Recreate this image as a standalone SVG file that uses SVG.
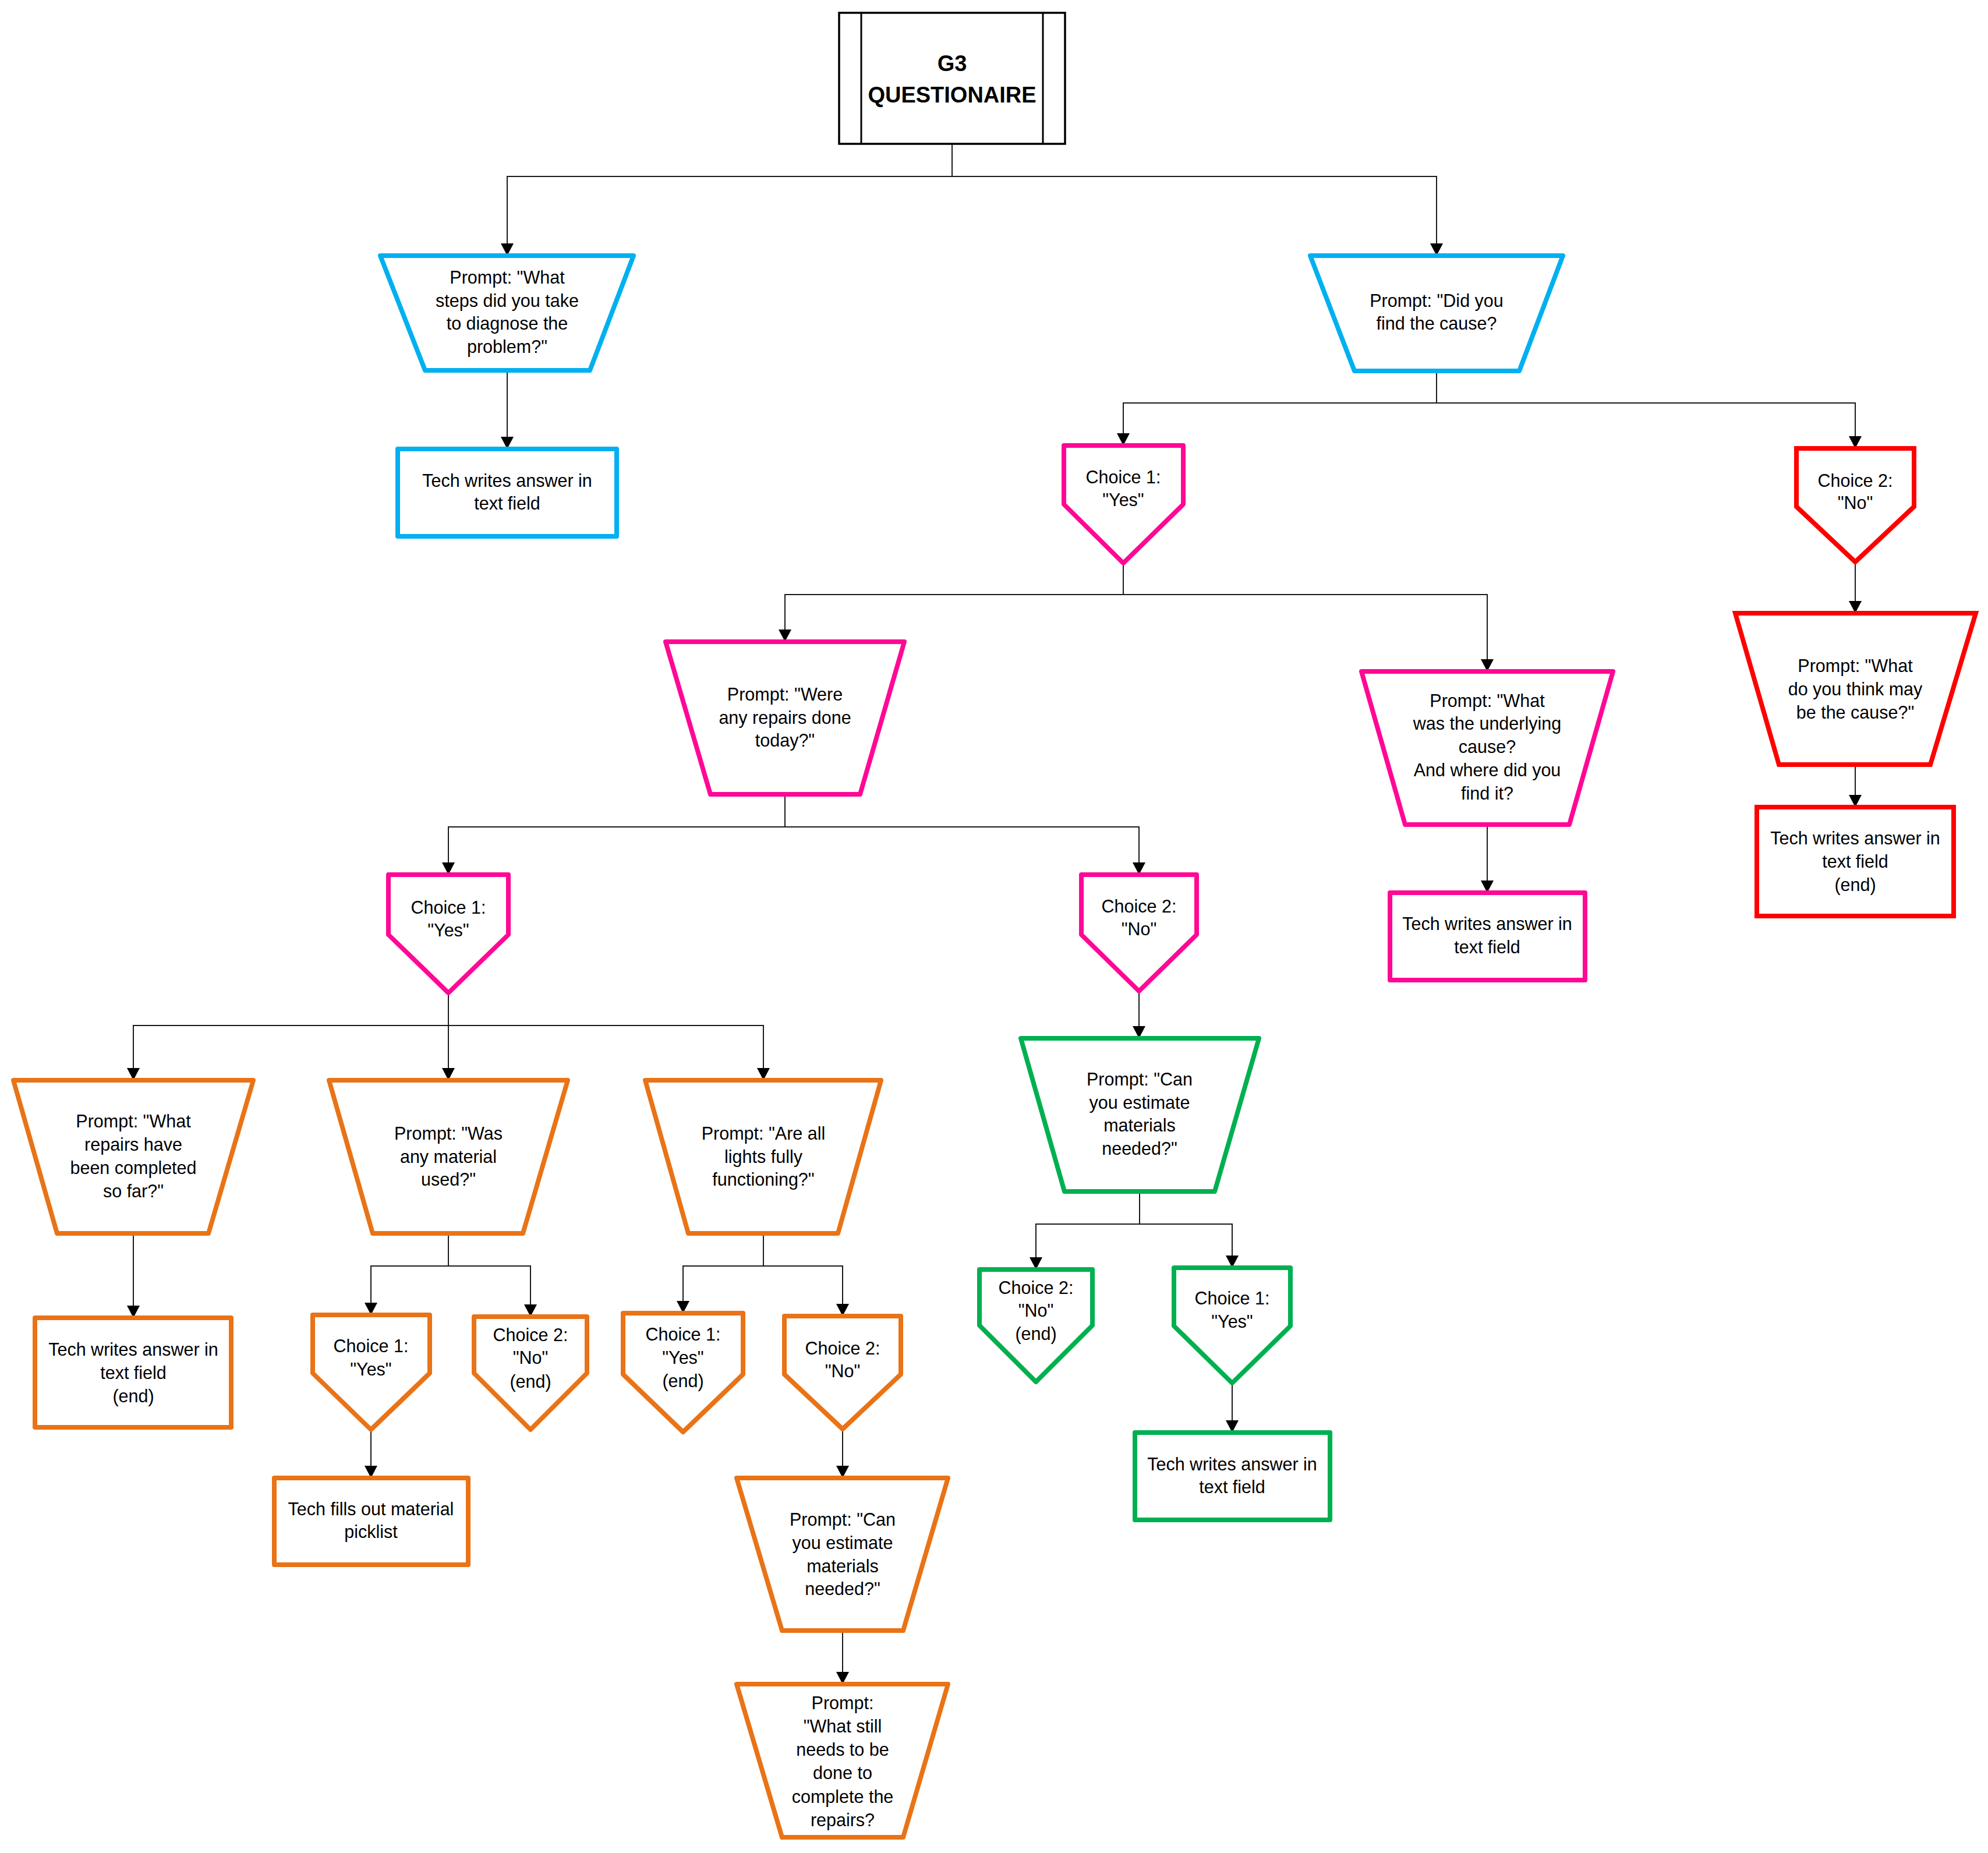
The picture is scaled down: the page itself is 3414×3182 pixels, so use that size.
<svg xmlns="http://www.w3.org/2000/svg" width="3414" height="3182" viewBox="0 0 3414 3182">
<defs>
<marker id="arr" viewBox="0 0 21 22" refX="21" refY="11" markerWidth="21" markerHeight="22" markerUnits="userSpaceOnUse" orient="auto">
<path d="M0,0 L21,11 L0,22 z" fill="#000"/>
</marker>
<style>
.nd{fill:#fff;stroke-width:8;stroke-linejoin:round}
.blue{stroke:#00B0F0}
.pink{stroke:#FF0896}
.red{stroke:#FF0000;stroke-linejoin:miter}
.orange{stroke:#E97316}
.green{stroke:#00B050}
.t{font-family:"Liberation Sans",Arial,sans-serif;font-size:30.5px;fill:#000;text-anchor:middle}
.title{font-family:"Liberation Sans",Arial,sans-serif;font-size:38px;font-weight:bold;fill:#000;text-anchor:middle}
.c{fill:none;stroke:#1a1a1a;stroke-width:2;marker-end:url(#arr)}
</style>
</defs>
<rect width="3414" height="3182" fill="#fff"/>

<g id="connectors">
<path class="c" d="M1635 247 V303 H871 V439"/>
<path class="c" d="M1635 247 V303 H2467 V439"/>
<path class="c" d="M871 636 V771"/>
<path class="c" d="M2467 637 V692 H1929 V765"/>
<path class="c" d="M2467 637 V692 H3186 V770"/>
<path class="c" d="M3186 965 V1053"/>
<path class="c" d="M3186 1313 V1386"/>
<path class="c" d="M1929 967 V1021 H1348 V1102"/>
<path class="c" d="M1929 967 V1021 H2554 V1153"/>
<path class="c" d="M2554 1416 V1533"/>
<path class="c" d="M1348 1364 V1420 H770 V1502"/>
<path class="c" d="M1348 1364 V1420 H1956 V1502"/>
<path class="c" d="M770 1705 V1761 H229 V1855"/>
<path class="c" d="M770 1705 V1855"/>
<path class="c" d="M770 1705 V1761 H1311 V1855"/>
<path class="c" d="M229 2118 V2263"/>
<path class="c" d="M770 2118 V2174 H637 V2258"/>
<path class="c" d="M770 2118 V2174 H911 V2261"/>
<path class="c" d="M637 2455 V2538"/>
<path class="c" d="M1311 2118 V2174 H1173 V2255"/>
<path class="c" d="M1311 2118 V2174 H1447 V2260"/>
<path class="c" d="M1447 2454 V2538"/>
<path class="c" d="M1447 2800 V2892"/>
<path class="c" d="M1956 1702 V1783"/>
<path class="c" d="M1957 2046 V2102 H1779 V2180"/>
<path class="c" d="M1957 2046 V2102 H2116 V2177"/>
<path class="c" d="M2116 2375 V2460"/>
</g>

<g id="n0-title">
<rect x="1441" y="22" width="388" height="225" fill="#fff" stroke="#000" stroke-width="3.5"/>
<line x1="1479" y1="22" x2="1479" y2="247" stroke="#000" stroke-width="3"/>
<line x1="1791" y1="22" x2="1791" y2="247" stroke="#000" stroke-width="3"/>
<text class="title"><tspan x="1635" y="122">G3</tspan><tspan x="1635" y="176">QUESTIONAIRE</tspan></text>
</g>

<g id="n1-steps">
<polygon class="nd blue" points="653,439 1088,439 1013,636 730,636"/>
<text class="t"><tspan x="871" y="487">Prompt: "What</tspan><tspan x="871" y="527">steps did you take</tspan><tspan x="871" y="566">to diagnose the</tspan><tspan x="871" y="606">problem?"</tspan></text>
</g>

<g id="n2-answer-blue">
<rect class="nd blue" x="683" y="771" width="376" height="150"/>
<text class="t"><tspan x="871" y="836">Tech writes answer in</tspan><tspan x="871" y="875">text field</tspan></text>
</g>

<g id="n3-cause">
<polygon class="nd blue" points="2250,439 2684,439 2609,637 2326,637"/>
<text class="t"><tspan x="2467" y="527">Prompt: "Did you</tspan><tspan x="2467" y="566">find the cause?</tspan></text>
</g>

<g id="n4-cause-yes">
<polygon class="nd pink" points="1827,765 2032,765 2032,866 1929,967 1827,866"/>
<text class="t"><tspan x="1929" y="830">Choice 1:</tspan><tspan x="1929" y="869">"Yes"</tspan></text>
</g>

<g id="n5-cause-no">
<polygon class="nd red" points="3085,770 3287,770 3287,870 3186,965 3085,870"/>
<text class="t"><tspan x="3186" y="836">Choice 2:</tspan><tspan x="3186" y="874">"No"</tspan></text>
</g>

<g id="n6-think">
<polygon class="nd red" points="2980,1053 3393,1053 3315,1313 3055,1313"/>
<text class="t"><tspan x="3186" y="1154">Prompt: "What</tspan><tspan x="3186" y="1194">do you think may</tspan><tspan x="3186" y="1234">be the cause?"</tspan></text>
</g>

<g id="n7-answer-red">
<rect class="nd red" x="3017" y="1386" width="338" height="187"/>
<text class="t"><tspan x="3186" y="1450">Tech writes answer in</tspan><tspan x="3186" y="1490">text field</tspan><tspan x="3186" y="1530">(end)</tspan></text>
</g>

<g id="n8-repairs">
<polygon class="nd pink" points="1143,1102 1553,1102 1477,1364 1220,1364"/>
<text class="t"><tspan x="1348" y="1203">Prompt: "Were</tspan><tspan x="1348" y="1243">any repairs done</tspan><tspan x="1348" y="1282">today?"</tspan></text>
</g>

<g id="n9-underlying">
<polygon class="nd pink" points="2338,1153 2770,1153 2695,1416 2413,1416"/>
<text class="t"><tspan x="2554" y="1214">Prompt: "What</tspan><tspan x="2554" y="1253">was the underlying</tspan><tspan x="2554" y="1293">cause?</tspan><tspan x="2554" y="1333">And where did you</tspan><tspan x="2554" y="1373">find it?</tspan></text>
</g>

<g id="n10-answer-pink">
<rect class="nd pink" x="2387" y="1533" width="335" height="150"/>
<text class="t"><tspan x="2554" y="1597">Tech writes answer in</tspan><tspan x="2554" y="1637">text field</tspan></text>
</g>

<g id="n11-repairs-yes">
<polygon class="nd pink" points="667,1502 873,1502 873,1605 770,1705 667,1605"/>
<text class="t"><tspan x="770" y="1569">Choice 1:</tspan><tspan x="770" y="1608">"Yes"</tspan></text>
</g>

<g id="n12-repairs-no">
<polygon class="nd pink" points="1857,1502 2055,1502 2055,1605 1956,1702 1857,1605"/>
<text class="t"><tspan x="1956" y="1567">Choice 2:</tspan><tspan x="1956" y="1606">"No"</tspan></text>
</g>

<g id="n13-completed">
<polygon class="nd orange" points="23,1855 435,1855 358,2118 98,2118"/>
<text class="t"><tspan x="229" y="1936">Prompt: "What</tspan><tspan x="229" y="1976">repairs have</tspan><tspan x="229" y="2016">been completed</tspan><tspan x="229" y="2056">so far?"</tspan></text>
</g>

<g id="n14-answer-orange">
<rect class="nd orange" x="60" y="2263" width="337" height="188"/>
<text class="t"><tspan x="229" y="2328">Tech writes answer in</tspan><tspan x="229" y="2368">text field</tspan><tspan x="229" y="2408">(end)</tspan></text>
</g>

<g id="n15-material">
<polygon class="nd orange" points="565,1855 975,1855 898,2118 640,2118"/>
<text class="t"><tspan x="770" y="1957">Prompt: "Was</tspan><tspan x="770" y="1997">any material</tspan><tspan x="770" y="2036">used?"</tspan></text>
</g>

<g id="n16-lights">
<polygon class="nd orange" points="1108,1855 1513,1855 1439,2118 1182,2118"/>
<text class="t"><tspan x="1311" y="1957">Prompt: "Are all</tspan><tspan x="1311" y="1997">lights fully</tspan><tspan x="1311" y="2036">functioning?"</tspan></text>
</g>

<g id="n17-material-yes">
<polygon class="nd orange" points="537,2258 738,2258 738,2358 637,2455 537,2358"/>
<text class="t"><tspan x="637" y="2322">Choice 1:</tspan><tspan x="637" y="2362">"Yes"</tspan></text>
</g>

<g id="n18-picklist">
<rect class="nd orange" x="471" y="2538" width="333" height="149"/>
<text class="t"><tspan x="637" y="2602">Tech fills out material</tspan><tspan x="637" y="2641">picklist</tspan></text>
</g>

<g id="n19-material-no">
<polygon class="nd orange" points="814,2261 1008,2261 1008,2358 911,2455 814,2358"/>
<text class="t"><tspan x="911" y="2303">Choice 2:</tspan><tspan x="911" y="2342">"No"</tspan><tspan x="911" y="2383">(end)</tspan></text>
</g>

<g id="n20-lights-yes">
<polygon class="nd orange" points="1070,2255 1276,2255 1276,2360 1173,2459 1070,2360"/>
<text class="t"><tspan x="1173" y="2302">Choice 1:</tspan><tspan x="1173" y="2342">"Yes"</tspan><tspan x="1173" y="2382">(end)</tspan></text>
</g>

<g id="n21-lights-no">
<polygon class="nd orange" points="1347,2260 1547,2260 1547,2360 1447,2454 1347,2360"/>
<text class="t"><tspan x="1447" y="2326">Choice 2:</tspan><tspan x="1447" y="2365">"No"</tspan></text>
</g>

<g id="n22-estimate-orange">
<polygon class="nd orange" points="1265,2538 1628,2538 1551,2800 1343,2800"/>
<text class="t"><tspan x="1447" y="2620">Prompt: "Can</tspan><tspan x="1447" y="2660">you estimate</tspan><tspan x="1447" y="2700">materials</tspan><tspan x="1447" y="2739">needed?"</tspan></text>
</g>

<g id="n23-still-needs">
<polygon class="nd orange" points="1265,2892 1628,2892 1551,3155 1343,3155"/>
<text class="t"><tspan x="1447" y="2935">Prompt:</tspan><tspan x="1447" y="2975">"What still</tspan><tspan x="1447" y="3015">needs to be</tspan><tspan x="1447" y="3055">done to</tspan><tspan x="1447" y="3096">complete the</tspan><tspan x="1447" y="3136">repairs?</tspan></text>
</g>

<g id="n24-estimate-green">
<polygon class="nd green" points="1753,1783 2162,1783 2086,2046 1828,2046"/>
<text class="t"><tspan x="1957" y="1864">Prompt: "Can</tspan><tspan x="1957" y="1904">you estimate</tspan><tspan x="1957" y="1943">materials</tspan><tspan x="1957" y="1983">needed?"</tspan></text>
</g>

<g id="n25-estimate-no">
<polygon class="nd green" points="1682,2180 1876,2180 1876,2276 1779,2373 1682,2276"/>
<text class="t"><tspan x="1779" y="2222">Choice 2:</tspan><tspan x="1779" y="2261">"No"</tspan><tspan x="1779" y="2301">(end)</tspan></text>
</g>

<g id="n26-estimate-yes">
<polygon class="nd green" points="2016,2177 2216,2177 2216,2277 2116,2375 2016,2277"/>
<text class="t"><tspan x="2116" y="2240">Choice 1:</tspan><tspan x="2116" y="2280">"Yes"</tspan></text>
</g>

<g id="n27-answer-green">
<rect class="nd green" x="1949" y="2460" width="335" height="150"/>
<text class="t"><tspan x="2116" y="2525">Tech writes answer in</tspan><tspan x="2116" y="2564">text field</tspan></text>
</g>
</svg>
